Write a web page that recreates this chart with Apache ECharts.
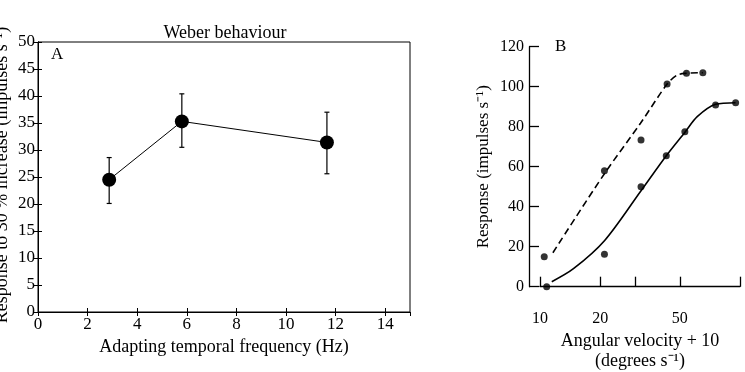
<!DOCTYPE html>
<html><head><meta charset="utf-8">
<script src="https://cdn.jsdelivr.net/npm/echarts@6/dist/echarts.min.js"></script>
<style>html,body{margin:0;padding:0;background:#fff}#c{width:745px;height:372px}</style>
</head><body><div id="c"></div>
<script>
// Panel A data
var aFreq = [2.87, 5.8, 11.65];
var aResp = [24.5, 35.3, 31.4];
var aErrLow = [20.1, 30.5, 25.6];
var aErrHigh = [28.6, 40.4, 37.0];
var aXTicks = [0, 2, 4, 6, 8, 10, 12, 14];
// Panel B data (points)
var bDashX = [10.5, 21.0, 32.0, 43.2, 54.0, 65.2];
var bDashY = [15, 58, 73.3, 101.3, 106.7, 107];
var bSolidX = [10.8, 21.0, 32.0, 42.8, 53.0, 75.5, 95.1];
var bSolidY = [0, 16.2, 50, 65.5, 77.5, 90.8, 92];
// Panel B fitted curves
var bDashCurveX = [11.6, 21, 31.8, 43.2, 48.5, 54, 65.2];
var bDashCurveY = [17, 56.5, 81.7, 101.3, 105.8, 106.7, 107];
var bSolidCurveX = [11.45, 14.7, 21, 32, 42.8, 53.3, 61.1, 75.5, 95];
var bSolidCurveY = [2.5, 9, 23, 48, 65.5, 77.5, 85, 91.2, 92];
var bXTicks = [10, 20, 30, 50, 100];
var bXLabels = [10, 20, 50];

function zip(a, b) { return a.map(function (v, i) { return [v, b[i]]; }); }

var F = 'Liberation Serif';
var chart = echarts.init(document.getElementById('c'));
chart.setOption({
  animation: false,
  textStyle: { fontFamily: F, color: '#000' },
  title: {
    text: 'Weber behaviour', left: 220, top: 19, textAlign: 'center',
    textStyle: { fontFamily: F, fontSize: 18, fontWeight: 'normal', color: '#000' }
  },
  grid: [
    { left: 38, right: 335, top: 42, bottom: 60, show: true, borderColor: '#000', borderWidth: 1,
      outerBoundsMode: 'none' },
    { left: 540, right: 5, top: 46.7, bottom: 85.3, outerBoundsMode: 'none' }
  ],
  xAxis: [
    { gridIndex: 0, type: 'value', min: 0, max: 15, interval: 2,
      axisLine: { lineStyle: { color: '#000', width: 1 } },
      axisTick: { inside: true, length: 4, lineStyle: { color: '#000' } },
      axisLabel: { showMaxLabel: false, fontSize: 17, color: '#000', fontFamily: F, margin: 4 },
      splitLine: { show: false },
      name: 'Adapting temporal frequency (Hz)', nameLocation: 'middle', nameGap: 25,
      nameTextStyle: { fontSize: 18, color: '#000', fontFamily: F, verticalAlign: 'top' } },
    { gridIndex: 0, type: 'value', position: 'top', min: 0, max: 15, interval: 2,
      axisLine: { lineStyle: { color: '#000' } },
      axisTick: { inside: true, length: 4, lineStyle: { color: '#000' } },
      axisLabel: { show: false }, splitLine: { show: false } },
    { gridIndex: 1, type: 'log', logBase: 10, min: 10, max: 100, offset: 19,
      axisLine: { lineStyle: { color: '#000', width: 1.3 } },
      axisTick: { inside: true, length: 10, customValues: bXTicks, lineStyle: { color: '#000', width: 1.3 } },
      axisLabel: { customValues: bXLabels, fontSize: 16, color: '#000', fontFamily: F, margin: 5 },
      splitLine: { show: false }, minorTick: { show: false },
      name: 'Angular velocity + 10\n(degrees s\u207B\u00B9)', nameLocation: 'middle', nameGap: 24,
      nameTextStyle: { fontSize: 18, color: '#000', fontFamily: F, lineHeight: 20, verticalAlign: 'top' } }
  ],
  yAxis: [
    { gridIndex: 0, type: 'value', min: 0, max: 50, interval: 5,
      axisLine: { lineStyle: { color: '#000' } },
      axisTick: { inside: true, length: 4, lineStyle: { color: '#000' } },
      axisLabel: { fontSize: 17, color: '#000', fontFamily: F, margin: 3 },
      splitLine: { show: false } },
    { gridIndex: 0, type: 'value', position: 'right', min: 0, max: 50, interval: 5,
      axisLine: { lineStyle: { color: '#000' } },
      axisTick: { inside: true, length: 4, lineStyle: { color: '#000' } },
      axisLabel: { show: false }, splitLine: { show: false } },
    { gridIndex: 1, type: 'value', min: 0, max: 120, interval: 20, offset: 11,
      axisLine: { lineStyle: { color: '#000', width: 1.3 } },
      axisTick: { inside: true, length: 10, lineStyle: { color: '#000', width: 1.3 } },
      axisLabel: { fontSize: 16, color: '#000', fontFamily: F, margin: 5 },
      splitLine: { show: false },
      name: 'Response (impulses s\u207B\u00B9)', nameLocation: 'middle', nameGap: 37,
      nameTextStyle: { fontSize: 17, color: '#000', fontFamily: F } }
  ],
  graphic: [
    { type: 'text', x: 2, y: 175, rotation: Math.PI / 2,
      style: { text: 'Response to 30 % increase (impulses s\u207B\u00B9)', font: '18px "Liberation Serif"',
        fill: '#000', align: 'center', verticalAlign: 'middle' } },
    { type: 'text', x: 51, y: 46, style: { text: 'A', font: '17px "Liberation Serif"', fill: '#000' } },
    { type: 'text', x: 555, y: 38, style: { text: 'B', font: '17px "Liberation Serif"', fill: '#000' } }
  ],
  series: [
    { type: 'custom', xAxisIndex: 0, yAxisIndex: 0, z: 2,
      data: aFreq.map(function (x, i) { return [x, aErrLow[i], aErrHigh[i]]; }),
      renderItem: function (params, api) {
        var lo = api.coord([api.value(0), api.value(1)]);
        var hi = api.coord([api.value(0), api.value(2)]);
        var w = 2.5, s = { stroke: '#000', lineWidth: 1.2 };
        return { type: 'group', children: [
          { type: 'line', shape: { x1: lo[0], y1: lo[1], x2: hi[0], y2: hi[1] }, style: s },
          { type: 'line', shape: { x1: lo[0] - w, y1: lo[1], x2: lo[0] + w, y2: lo[1] }, style: s },
          { type: 'line', shape: { x1: hi[0] - w, y1: hi[1], x2: hi[0] + w, y2: hi[1] }, style: s }
        ] };
      } },
    { type: 'line', xAxisIndex: 0, yAxisIndex: 0, data: zip(aFreq, aResp), z: 3,
      symbol: 'circle', symbolSize: 14, itemStyle: { color: '#000' },
      lineStyle: { color: '#000', width: 1 } },
    { type: 'line', xAxisIndex: 2, yAxisIndex: 2, data: zip(bDashCurveX, bDashCurveY),
      smooth: 0.3, symbol: 'none', lineStyle: { color: '#000', width: 1.6, type: [7, 4] } },
    { type: 'line', xAxisIndex: 2, yAxisIndex: 2, data: zip(bSolidCurveX, bSolidCurveY),
      smooth: 0.3, symbol: 'none', lineStyle: { color: '#000', width: 1.6 } },
    { type: 'scatter', xAxisIndex: 2, yAxisIndex: 2, data: zip(bDashX, bDashY),
      symbolSize: 7, itemStyle: { color: '#000' } },
    { type: 'scatter', xAxisIndex: 2, yAxisIndex: 2, data: zip(bSolidX, bSolidY),
      symbolSize: 7, itemStyle: { color: '#000' } }
  ]
});
</script></body></html>
